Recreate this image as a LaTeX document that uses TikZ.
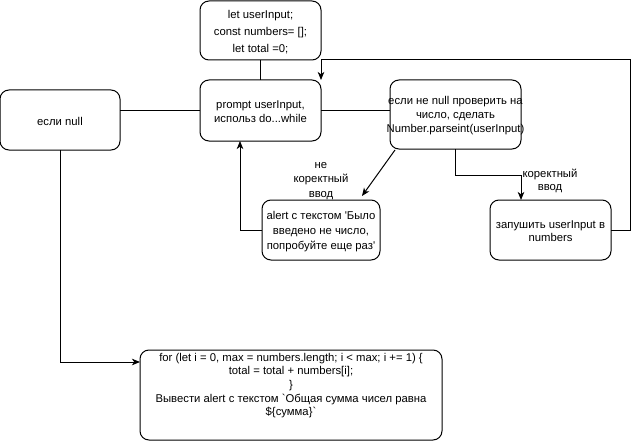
\documentclass[tikz,border=0pt]{standalone}
\usepackage{fontspec}
\setmainfont{Liberation Sans}[Ligatures=TeXOff]
\usetikzlibrary{arrows.meta}
\begin{document}
\begin{tikzpicture}[x=1pt,y=-1pt,
  box/.style={draw=black,line width=1pt,rounded corners=9pt,fill=white,
    inner sep=0pt,outer sep=0pt},
  txt/.style={align=center,inner sep=0pt,font=\fontsize{11.3}{13.6}\selectfont},
  conn/.style={draw=black,line width=1pt},
  arr/.style={conn,-{Stealth[length=8pt,width=6.5pt,inset=2.2pt]}}]
\useasboundingbox (0,0) rectangle (639,441);
\fill[white] (0,0) rectangle (639,441);

% boxes
\node[box,minimum width=121pt,minimum height=59pt] (init) at (260.5,30.5) {};
\node[box,minimum width=121pt,minimum height=61pt] (prompt) at (260.5,110.5) {};
\node[box,minimum width=120pt,minimum height=60pt] (nullbox) at (60,120) {};
\node[box,minimum width=131pt,minimum height=69pt] (parse) at (455.5,114.5) {};
\node[box,minimum width=118pt,minimum height=60pt] (alertbox) at (321,230) {};
\node[box,minimum width=121pt,minimum height=60pt] (push) at (550.5,230) {};
\node[box,minimum width=302pt,minimum height=90pt] (final) at (291,395) {};

% box texts
\node[txt,font=\fontsize{11.3}{17}\selectfont] (initT) at (260.5,32) {let userInput;\\const numbers= [];\\let total =0;};
\node[txt] (promptT) at (260.5,111.5) {prompt userInput,\\использ do...while};
\node[txt] (nullT) at (60,121) {если null};
\node[txt,font=\fontsize{11.3}{14}\selectfont] (parseT) at (455.5,116) {если не null проверить на\\число, сделать\\Number.parseint(userInput)};
\node[txt,font=\fontsize{11.3}{15}\selectfont] (alertT) at (321,231.5) {alert с текстом 'Было\\введено не число,\\попробуйте еще раз'};
\node[txt] (pushT) at (550.5,231) {запушить userInput в\\numbers};
\node[txt] (finalT) at (291,385.5) {for (let i = 0, max = numbers.length; i < max; i += 1) \{\\total = total + numbers[i];\\\}\\Вывести alert с текстом `Общая сумма чисел равна\\\$\{сумма\}`};

% edge labels
\node[txt,font=\fontsize{11.3}{14.5}\selectfont] (badL) at (321,181) {не\\коректный\\ввод};
\node[txt] (goodL) at (550,181) {коректный\\ввод};

% helper points
\coordinate (diagA) at (395,150);
\coordinate (diagB) at (362,196);
\coordinate (splitR) at (521,175);
\coordinate (loopR) at (630,60);

% connectors
\draw[conn] (init.south) -- (prompt.north);
\draw[conn] (prompt.west) -- (prompt.west -| nullbox.east);
\draw[conn] (prompt.east) -- (prompt.east -| parse.west);
\draw[arr] (parse.south) |- (splitR) -- (splitR |- push.north);
\draw[arr] (diagA) -- (diagB);
\draw[arr] (alertbox.west) -| (240,0 |- prompt.south);
\draw[arr] (push.east) -| (loopR) -| (321,0 |- prompt.north);
\draw[arr] (nullbox.south) |- (final.west |- 0,362);
\end{tikzpicture}
\end{document}
